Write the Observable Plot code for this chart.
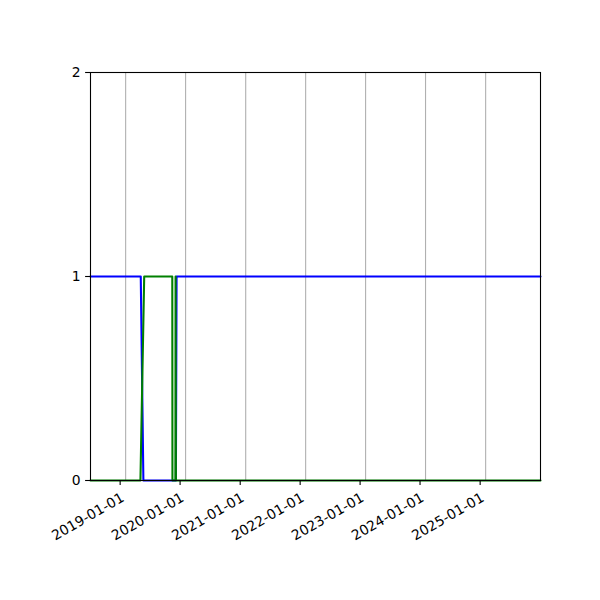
<!DOCTYPE html>
<html><head><meta charset="utf-8">
<script src="https://cdn.jsdelivr.net/npm/d3@7"></script>
<script src="https://cdn.jsdelivr.net/npm/@observablehq/plot@0.6"></script>
<style>html,body{margin:0;padding:0;background:#fff}#chart svg{display:block}</style>
</head><body><div id="chart"></div>
<script>
// Data
const domainStart = "2018-06-01";
const domainEnd = "2025-12-01";
const blueDates = ["2018-06-01","2019-04-03","2019-04-19","2019-11-03","2019-11-07","2025-12-01"];
const blueValues = [1,1,0,0,1,1];
const greenDates = ["2018-06-01","2019-04-01","2019-04-24","2019-10-12","2019-10-13","2019-10-31","2019-11-01","2019-11-03","2025-12-01"];
const greenValues = [0,0,1,1,0,0,1,0,0];
const xTickLabels = ["2019-01-01","2020-01-01","2021-01-01","2022-01-01","2023-01-01","2024-01-01","2025-01-01"];
const yTicks = [0,1,2];

const parse = d3.utcParse("%Y-%m-%d");
const blue = blueDates.map((d,i)=>({date: parse(d), value: blueValues[i]}));
const green = greenDates.map((d,i)=>({date: parse(d), value: greenValues[i]}));
const xTicks = xTickLabels.map(parse);

const chart = Plot.plot({
  width: 600, height: 600,
  marginTop: 72, marginBottom: 120, marginLeft: 90, marginRight: 60,
  style: {fontFamily: "DejaVu Sans", fontSize: "13.9px", color: "black", background: "white"},
  x: {type: "utc", domain: [parse(domainStart), parse(domainEnd)]},
  y: {domain: [0, 2]},
  marks: [
    Plot.gridX(xTicks, {stroke: "#b0b0b0", strokeOpacity: 1, strokeWidth: 1.1}),
    Plot.line(blue, {x: "date", y: "value", stroke: "blue", strokeWidth: 2.08}),
    Plot.line(green, {x: "date", y: "value", stroke: "green", strokeWidth: 2.08}),
    Plot.frame({stroke: "black", strokeWidth: 1.1}),
    Plot.axisY({ticks: yTicks, tickSize: 4.9, tickPadding: 4.9, tickFormat: d => String(d), label: null, strokeWidth: 1.1}),
    Plot.axisX({ticks: xTicks, tickSize: 4.9, tickPadding: 6.4, tickFormat: d3.utcFormat("%Y-%m-%d"),
      tickRotate: -30, textAnchor: "end", lineAnchor: "top", dx: -5.5, label: null, strokeWidth: 1.1})
  ]
});
document.getElementById("chart").appendChild(chart);
</script>
</body></html>
